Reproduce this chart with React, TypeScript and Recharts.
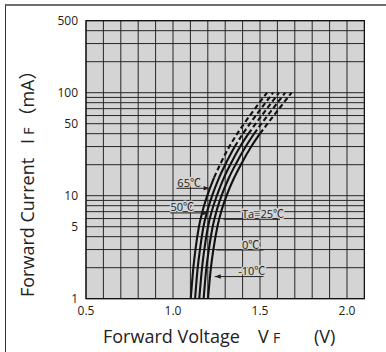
import React from "react";
import { LineChart, Line, XAxis, YAxis, CartesianGrid, ReferenceLine, ReferenceArea } from "recharts";

// forward current steps (mA)
const currents = [1, 2, 3, 5, 7, 10, 15, 20, 30, 40, 50, 70, 100];

// forward voltage (V) of each curve at those currents
const vf65 = [1.102, 1.117, 1.129, 1.149, 1.169, 1.197, 1.236, 1.27, 1.324, 1.369, 1.408, 1.471, 1.54];
const vf50 = [1.127, 1.142, 1.155, 1.175, 1.196, 1.225, 1.265, 1.3, 1.355, 1.402, 1.442, 1.506, 1.575];
const vf25 = [1.151, 1.167, 1.18, 1.201, 1.222, 1.252, 1.293, 1.329, 1.386, 1.434, 1.475, 1.54, 1.609];
const vf0 = [1.176, 1.192, 1.206, 1.228, 1.249, 1.279, 1.322, 1.359, 1.418, 1.466, 1.508, 1.574, 1.645];
const vfMinus10 = [1.201, 1.218, 1.232, 1.255, 1.277, 1.308, 1.352, 1.39, 1.45, 1.5, 1.543, 1.61, 1.681];

// current above which each curve is drawn dashed
const dashFrom = [15, 30, 40, 40, 40];
const curveNames = ["65℃", "50℃", "25℃", "0℃", "-10℃"];
const curveValues = [vf65, vf50, vf25, vf0, vfMinus10];

const xTicks = [0.5, 0.6, 0.7, 0.8, 0.9, 1.0, 1.1, 1.2, 1.3, 1.4, 1.5, 1.6, 1.7, 1.8, 1.9, 2.0, 2.1];
const xLabels = [0.5, 1.0, 1.5, 2.0];
const yTicks = [1, 2, 3, 4, 5, 6, 7, 8, 9, 10, 20, 30, 40, 50, 60, 70, 80, 90, 100, 200, 300, 400, 500];
const yLabels = [1, 5, 10, 50, 100, 500];

// leader labels: text, line start/end voltage, current, text start voltage, arrow end
const noteTexts = ["65℃", "50℃", "Ta=25℃", "0℃", "-10℃"];
const noteFrom = [1.02, 0.985, 1.29, 1.25, 1.24];
const noteTo = [1.21, 1.205, 1.615, 1.52, 1.52];
const noteAt = [11.8, 6.8, 5.9, 2.97, 1.64];
const noteTextV = [1.025, 0.985, 1.397, 1.397, 1.375];
const noteArrow = ["end", "end", "", "", "start"];

const FONT = "'Open Sans', 'Noto Sans CJK JP', sans-serif";
const BG = "#d4d4d4";

const curves = curveNames.map((name, k) => {
  const pts = currents.map((i, j) => ({ v: curveValues[k][j], i }));
  return {
    name,
    solid: pts.filter((p) => p.i <= dashFrom[k]),
    dashed: pts.filter((p) => p.i >= dashFrom[k]),
  };
});

const YTick = ({ x, y, payload }: any) =>
  yLabels.includes(payload.value) ? (
    <text x={x} y={y} dy={4.5} textAnchor="end" fontSize={12} fontFamily={FONT} fill="#222">
      {payload.value}
    </text>
  ) : (
    <g />
  );

const XTick = ({ x, y, payload }: any) =>
  xLabels.some((l) => Math.abs(l - payload.value) < 1e-6) ? (
    <text x={x} y={y} dy={8} textAnchor="middle" fontSize={12} fontFamily={FONT} fill="#222">
      {Number(payload.value).toFixed(1)}
    </text>
  ) : (
    <g />
  );

const leader = (k: number) => (props: any) => {
  const { x1, y1, x2, y2 } = props;
  const tx = x1 + ((noteTextV[k] - noteFrom[k]) / (noteTo[k] - noteFrom[k])) * (x2 - x1);
  const head =
    noteArrow[k] === "end"
      ? `${x2},${y2} ${x2 - 6},${y2 - 2.2} ${x2 - 6},${y2 + 2.2}`
      : noteArrow[k] === "start"
      ? `${x1},${y1} ${x1 + 6},${y1 - 2.2} ${x1 + 6},${y1 + 2.2}`
      : null;
  return (
    <g>
      <text
        x={tx}
        y={y1 - 1.5}
        fontSize={11}
        fontFamily={FONT}
        fill="#222"
        stroke={BG}
        strokeWidth={3}
        paintOrder="stroke"
      >
        {noteTexts[k]}
      </text>
      <line x1={x1} y1={y1} x2={x2} y2={y2} stroke="#222" strokeWidth={1} />
      {head && <polygon points={head} fill="#222" />}
    </g>
  );
};

const XTitle = ({ viewBox }: any) => {
  const { x, y } = viewBox;
  return (
    <text y={y + 44} fontFamily={FONT} fill="#222">
      <tspan x={x + 17} fontSize={18}>Forward Voltage</tspan>
      <tspan x={x + 172} fontSize={18}>V</tspan>
      <tspan x={x + 187} fontSize={14}>F</tspan>
      <tspan x={x + 228} fontSize={18}>(V)</tspan>
    </text>
  );
};

const YTitle = () => (
  <text transform="rotate(-90, 33.5, 297)" x={33.5} y={297} fontFamily={FONT} fill="#222">
    <tspan fontSize={18}>Forward Current</tspan>
    <tspan dx={14} fontSize={18}>I</tspan>
    <tspan dx={4} fontSize={14}>F</tspan>
    <tspan dx={2} fontSize={18}>（mA）</tspan>
  </text>
);

export default function App() {
  return (
    <div style={{ position: "absolute", left: 0, top: 0, width: 386, height: 352, background: "#fff" }}>
      <div
        style={{
          position: "absolute",
          left: 5,
          top: 4,
          right: 0,
          bottom: 0,
          borderTop: "2px solid #6e6e6e",
          borderLeft: "1px solid #333",
        }}
      />
      <LineChart
        width={386}
        height={352}
        margin={{ top: 20.7, right: 21.6, bottom: 23.3, left: 46 }}
        style={{ position: "absolute", left: 0, top: 0 }}
      >
        <CartesianGrid stroke="#262626" strokeWidth={1} fill={BG} fillOpacity={1} />
        <XAxis
          dataKey="v"
          type="number"
          domain={[0.5, 2.1]}
          ticks={xTicks}
          interval={0}
          allowDataOverflow
          axisLine={false}
          tickLine={false}
          height={30}
          tick={<XTick />}
          label={<XTitle />}
        />
        <YAxis
          dataKey="i"
          type="number"
          scale="log"
          domain={[1, 500]}
          ticks={yTicks}
          interval={0}
          allowDataOverflow
          axisLine={false}
          tickLine={false}
          width={40}
          tick={<YTick />}
          label={<YTitle />}
        />
        <ReferenceArea x1={0.5} x2={2.1} y1={1} y2={500} fill="none" stroke="#111" strokeWidth={1.2} />
        {curves.map((c) => (
          <Line
            key={c.name + "-solid"}
            data={c.solid}
            dataKey="i"
            type="monotone"
            stroke="#111"
            strokeWidth={2.1}
            dot={false}
            isAnimationActive={false}
          />
        ))}
        {curves.map((c) => (
          <Line
            key={c.name + "-dashed"}
            data={c.dashed}
            dataKey="i"
            type="monotone"
            stroke="#111"
            strokeWidth={2.1}
            strokeDasharray="5 3"
            dot={false}
            isAnimationActive={false}
          />
        ))}
        {noteTexts.map((t, k) => (
          <ReferenceLine
            key={t}
            segment={[
              { x: noteFrom[k], y: noteAt[k] },
              { x: noteTo[k], y: noteAt[k] },
            ]}
            shape={leader(k)}
          />
        ))}
      </LineChart>
    </div>
  );
}
